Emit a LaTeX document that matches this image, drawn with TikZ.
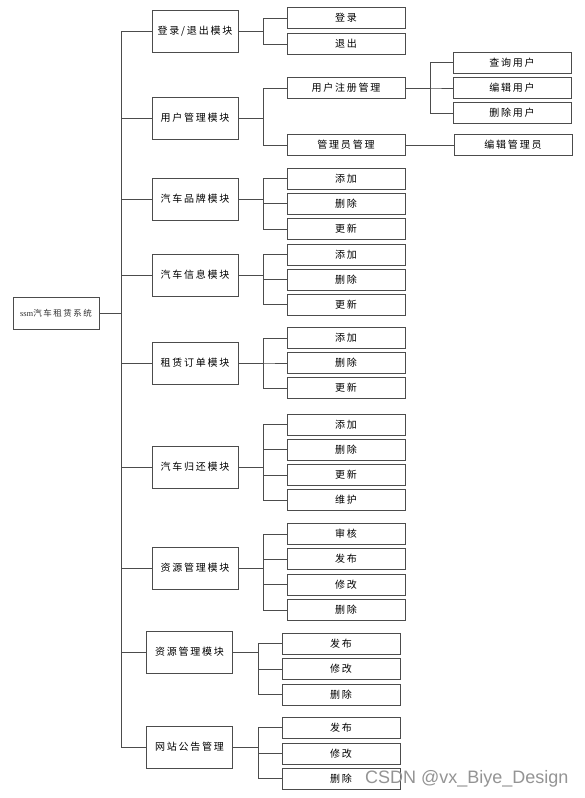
\documentclass[tikz,border=0pt]{standalone}
\usepackage{fontspec}
\setmainfont{Noto Sans CJK SC}[LetterSpace=18]
\newfontfamily\wmfont{Liberation Sans}
\newfontfamily\serifssm{Liberation Serif}
\begin{document}
\begin{tikzpicture}[x=1pt,y=-1pt,
  box/.style={draw=black!70,line width=0.9pt,fill=white,inner sep=0pt,font=\fontsize{10}{12}\selectfont,text=black},
  lonebox/.style={box,minimum width=86pt,minimum height=42pt},
  ltwobox/.style={box,minimum width=118pt,minimum height=21pt},
  link/.style={draw=black!70,line width=0.9pt}]
\useasboundingbox (0,0) rectangle (585,798);
\fill[white] (0,0) rectangle (585,798);
% root
\node[box,minimum width=86pt,minimum height=32pt,font=\fontsize{8.5}{10}\selectfont,text=black!80] (root) at (56,313) {{\serifssm ssm}汽车租赁系统};
% level 1
\node[lonebox] (a) at (195,31) {登录/退出模块};
\node[lonebox] (b) at (195,118) {用户管理模块};
\node[lonebox] (c) at (195,199) {汽车品牌模块};
\node[lonebox] (d) at (195,275) {汽车信息模块};
\node[lonebox] (e) at (195,363) {租赁订单模块};
\node[lonebox] (f) at (195,467) {汽车归还模块};
\node[lonebox] (g) at (195,568) {资源管理模块};
\node[lonebox] (h) at (189.5,652) {资源管理模块};
\node[lonebox] (i) at (189.5,747) {网站公告管理};
% level 2
\node[ltwobox] (a1) at (346,18) {登录};
\node[ltwobox] (a2) at (346,44) {退出};
\node[ltwobox] (b1) at (346,88) {用户注册管理};
\node[ltwobox] (b2) at (346,145) {管理员管理};
\node[ltwobox] (c1) at (346,178.5) {添加};
\node[ltwobox] (c2) at (346,203.5) {删除};
\node[ltwobox] (c3) at (346,229) {更新};
\node[ltwobox] (d1) at (346,254.5) {添加};
\node[ltwobox] (d2) at (346,279.5) {删除};
\node[ltwobox] (d3) at (346,304.5) {更新};
\node[ltwobox] (e1) at (346,338) {添加};
\node[ltwobox] (e2) at (346,363) {删除};
\node[ltwobox] (e3) at (346,388) {更新};
\node[ltwobox] (f1) at (346,424.5) {添加};
\node[ltwobox] (f2) at (346,449.5) {删除};
\node[ltwobox] (f3) at (346,475) {更新};
\node[ltwobox] (f4) at (346,500) {维护};
\node[ltwobox] (g1) at (346,534) {审核};
\node[ltwobox] (g2) at (346,559) {发布};
\node[ltwobox] (g3) at (346,584.5) {修改};
\node[ltwobox] (g4) at (346,610) {删除};
\node[ltwobox] (h1) at (341,643.5) {发布};
\node[ltwobox] (h2) at (341,669) {修改};
\node[ltwobox] (h3) at (341,694.5) {删除};
\node[ltwobox] (i1) at (341,727.5) {发布};
\node[ltwobox] (i2) at (341,753.5) {修改};
\node[ltwobox] (i3) at (341,778.5) {删除};
% level 3
\node[ltwobox] (b11) at (512,62.5) {查询用户};
\node[ltwobox] (b12) at (512,88) {编辑用户};
\node[ltwobox] (b13) at (512,113) {删除用户};
\node[ltwobox] (b21) at (513,145) {编辑管理员};
% trunk
\foreach \n in {a,b,c,d,e,f,g,h,i}
  \draw[link] (root.east) -- ++(22,0) |- (\n.west);
% groups
\foreach \p/\cs in {a/{a1,a2},b/{b1,b2},c/{c1,c2,c3},d/{d1,d2,d3},e/{e1,e2,e3},f/{f1,f2,f3,f4},g/{g1,g2,g3,g4},h/{h1,h2,h3},i/{i1,i2,i3},b1/{b11,b12,b13}}
  \foreach \ch in \cs
    \draw[link] (\p.east) -- ++(25,0) |- (\ch.west);
\draw[link] (b2.east) -- (b21.west);
% watermark
\node[anchor=west,inner sep=0pt,text=black!42,font=\wmfont\fontsize{18}{20}\selectfont] (wm) at (365,779) {CSDN @vx\_Biye\_Design};
\end{tikzpicture}
\end{document}
